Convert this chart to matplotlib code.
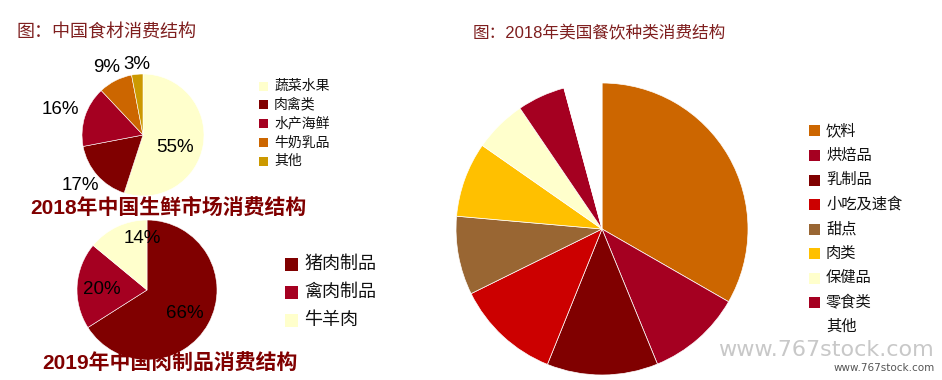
import matplotlib.pyplot as plt
from matplotlib.patches import Rectangle

plt.rcParams['font.family'] = ['Liberation Sans', 'Noto Sans CJK SC', 'DejaVu Sans']

# 2018 China fresh food market
fresh_labels = ['蔬菜水果', '肉禽类', '水产海鲜', '牛奶乳品', '其他']
fresh_values = [55, 17, 16, 9, 3]
fresh_colors = ['#FFFFCC', '#800000', '#A50021', '#CC6600', '#CC9900']

# 2019 China meat products
meat_labels = ['猪肉制品', '禽肉制品', '牛羊肉']
meat_values = [66, 20, 14]
meat_colors = ['#800000', '#A50021', '#FFFFCC']

# 2018 US food & beverage categories
us_labels = ['饮料', '烘焙品', '乳制品', '小吃及速食', '甜点', '肉类', '保健品', '零食类', '其他']
us_values = [33.3, 10.5, 12.3, 11.6, 8.7, 8.3, 5.8, 5.3, 4.2]
us_colors = ['#CC6600', '#A50021', '#800000', '#CC0000', '#996633', '#FFC000', '#FFFFCC', '#A50021', '#FFFFFF']

W, H = 942, 380
fig = plt.figure(figsize=(W / 100, H / 100), dpi=100)

title_color = '#7F1F1F'
sub_color = '#800000'


def pie_axes(cx, cy, r):
    # pixel centre/radius -> figure axes
    return fig.add_axes([(cx - r) / W, (H - cy - r) / H, 2 * r / W, 2 * r / H])


def pct_labels(ax, values, positions, size):
    for v, (x, y) in zip(values, positions):
        ax.text(x, y, f'{v:.0f}%', ha='center', va='center', fontsize=size, color='black')


def draw_legend(labels, colors, x, y0, step, box, size):
    for i, (lab, col) in enumerate(zip(labels, colors)):
        y = y0 + i * step
        fig.patches.append(Rectangle(((x) / W, (H - y - box / 2) / H), box / W, box / H,
                                     transform=fig.transFigure, facecolor=col, edgecolor='none'))
        fig.text((x + box + 6) / W, (H - y) / H, lab, ha='left', va='center',
                 fontsize=size, color='#111111')


# ---- top-left pie
ax1 = pie_axes(143, 135, 61)
ax1.pie(fresh_values, colors=fresh_colors, startangle=90, counterclock=False,
        wedgeprops=dict(edgecolor='white', linewidth=0.4))
ax1.set_xlim(-1, 1)
ax1.set_ylim(-1, 1)
pct_labels(ax1, fresh_values,
           [(0.52, -0.21), (-1.03, -0.82), (-1.36, 0.41), (-0.59, 1.11), (-0.10, 1.15)], 13.5)
draw_legend(fresh_labels, fresh_colors, 259, 86, 18.8, 9, 10)

# ---- bottom-left pie
ax2 = pie_axes(147, 290, 70)
ax2.pie(meat_values, colors=meat_colors, startangle=90, counterclock=False,
        wedgeprops=dict(edgecolor='white', linewidth=0.4))
ax2.set_xlim(-1, 1)
ax2.set_ylim(-1, 1)
pct_labels(ax2, meat_values, [(0.54, -0.33), (-0.64, 0.0), (-0.06, 0.74)], 13.5)
draw_legend(meat_labels, meat_colors, 285, 264, 28, 13, 13)

# ---- right pie
ax3 = pie_axes(602, 229, 146)
ax3.pie(us_values, colors=us_colors, startangle=90, counterclock=False,
        wedgeprops=dict(edgecolor='white', linewidth=0.5))
ax3.set_xlim(-1, 1)
ax3.set_ylim(-1, 1)
draw_legend(us_labels, us_colors, 809, 131, 24.5, 11, 11)

# ---- titles
fig.text(16 / W, (H - 33) / H, '图：中国食材消费结构', fontsize=13, color=title_color,
         ha='left', va='center')
fig.text(473 / W, (H - 33) / H, '图：2018年美国餐饮种类消费结构', fontsize=12, color=title_color,
         ha='left', va='center')
fig.text(168 / W, (H - 208) / H, '2018年中国生鲜市场消费结构', fontsize=15, fontweight='bold',
         color=sub_color, ha='center', va='center')
fig.text(170 / W, (H - 363) / H, '2019年中国肉制品消费结构', fontsize=15, fontweight='bold',
         color=sub_color, ha='center', va='center')

# watermark
fig.text(826 / W, (H - 350) / H, 'www.767stock.com', fontsize=16, color='#C8C8C8',
         ha='center', va='center', family='DejaVu Sans')
fig.text(884 / W, (H - 368) / H, 'www.767stock.com', fontsize=7.5, color='#555555',
         ha='center', va='center', family='DejaVu Sans')

fig.savefig('out.png', dpi=100, facecolor='white')
